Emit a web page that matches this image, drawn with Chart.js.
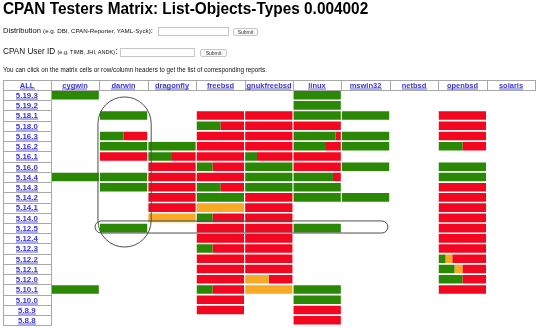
<!DOCTYPE html>
<html><head><meta charset="utf-8">
<script src="https://cdn.jsdelivr.net/npm/chart.js@4/dist/chart.umd.min.js"></script>
<style>
html,body{margin:0;padding:0;background:#fff;width:541px;height:328px;overflow:hidden;font-family:"Liberation Sans",Arial,sans-serif;color:#111}
#c{position:absolute;left:0;top:0}
.t{position:absolute;white-space:nowrap;line-height:1}
h1{position:absolute;left:3px;top:0;margin:0;font-size:15.4px;font-weight:bold;line-height:16px;transform:scaleY(1.1);transform-origin:0 0;white-space:nowrap;color:#000}
.inp{position:absolute;border:1px solid #c6c6c6;background:#fff;box-sizing:border-box}
.btn{position:absolute;border:1px solid #c8c8c8;border-radius:2px;background:#f8f8f8;box-sizing:border-box;font-size:5px;text-align:center;line-height:7px;color:#333}
</style></head>
<body>
<canvas id="c" width="541" height="328"></canvas>
<h1>CPAN Testers Matrix: List-Objects-Types 0.004002</h1>
<div class="t" style="left:3px;top:26.5px;font-size:7.6px">Distribution <span style="font-size:6.2px">(e.g. DBI, CPAN-Reporter, YAML-Syck)</span>:</div>
<div class="inp" style="left:158px;top:27px;width:71px;height:9px"></div>
<div class="btn" style="left:233px;top:27.5px;width:25px;height:8.5px">Submit</div>
<div class="t" style="left:3px;top:48px;font-size:8.2px">CPAN User ID <span style="font-size:5.6px">(e.g. TIMB, JHI, ANDK)</span>:</div>
<div class="inp" style="left:120px;top:48px;width:75px;height:9px"></div>
<div class="btn" style="left:200px;top:48.5px;width:27px;height:8.5px">Submit</div>
<div class="t" style="left:3px;top:67.3px;font-size:6.3px">You can click on the matrix cells or row/column headers to get the list of corresponding reports.</div>
<script>
// ---- data ----
const versions = ['5.19.3','5.19.2','5.18.1','5.18.0','5.16.3','5.16.2','5.16.1','5.16.0','5.14.4','5.14.3','5.14.2','5.14.1','5.14.0','5.12.5','5.12.4','5.12.3','5.12.2','5.12.1','5.12.0','5.10.1','5.10.0','5.8.9','5.8.8'];
const platforms = ['cygwin','darwin','dragonfly','freebsd','gnukfreebsd','linux','mswin32','netbsd','openbsd','solaris'];
// each cell: [pass, na, fail] report counts; null = no reports
const _ = null, P = [1,0,0], F = [0,0,1], N = [0,1,0];
const cygwin      = [P,_,_,_,_,_,_,_,P,_,_,_,_,_,_,_,_,_,_,P,_,_,_];
const darwin      = [_,_,P,_,[1,0,1],P,F,_,P,P,_,_,_,P,_,_,_,_,_,_,_,_,_];
const dragonfly   = [_,_,_,_,_,P,[1,0,1],F,F,F,F,F,N,_,_,_,_,_,_,_,_,_,_];
const freebsd     = [_,_,F,[1,0,1],F,F,F,[1,0,2],F,[1,0,1],P,N,[1,0,2],F,F,[1,0,2],F,F,F,[1,0,2],F,F,_];
const gnukfreebsd = [_,_,F,F,F,F,[1,0,3],P,P,P,F,F,F,F,F,F,F,F,[0,1,1],N,_,_,_];
const linux       = [P,P,P,F,[8,0,1],[2,0,1],F,F,[5,0,1],P,P,_,_,P,_,_,_,_,_,P,P,F,F];
const mswin32     = [_,_,P,_,P,P,_,P,_,_,P,_,_,_,_,_,_,_,_,_,_,_,_];
const netbsd      = [_,_,_,_,_,_,_,_,_,_,_,_,_,_,_,_,_,_,_,_,_,_,_];
const openbsd     = [_,_,F,F,F,[1,0,1],_,P,P,F,F,F,F,F,F,F,[1,1,5],[2,1,3],[1,0,1],F,_,_,_];
const solaris     = [_,_,_,_,_,_,_,_,_,_,_,_,_,_,_,_,_,_,_,_,_,_,_];
const series = [cygwin,darwin,dragonfly,freebsd,gnukfreebsd,linux,mswin32,netbsd,openbsd,solaris];
const resultNames = ['PASS','NA','FAIL'];

// ---- styling ----
const COLORS = ['#2a8805','#f9a924','#f3061f'];
const INSET = 0.012;
// highlight outlines, in column / row units
const outlines = [
  {x0:0.97, x1:2.07, y0:0.18, y1:14.85},
  {x0:0.91, x1:6.96, y0:12.3, y1:13.48}
];

function segments(k){
  const out = [];
  series.forEach((col,c) => col.forEach((cell,r) => {
    if(!cell || !cell[k]) return;
    const total = cell[0]+cell[1]+cell[2];
    const before = cell.slice(0,k).reduce((a,b)=>a+b,0);
    const w = 1-2*INSET;
    out.push({x:[c+INSET+w*before/total, c+INSET+w*(before+cell[k])/total], y:versions[r]});
  }));
  return out;
}

function stadium(ctx,l,t,r,b){
  const rad = Math.min(r-l,b-t)/2;
  ctx.beginPath();
  ctx.moveTo(l+rad,t);
  ctx.lineTo(r-rad,t);
  ctx.arc(r-rad,t+rad,rad,-Math.PI/2,0);
  ctx.lineTo(r,b-rad);
  ctx.arc(r-rad,b-rad,rad,0,Math.PI/2);
  ctx.lineTo(l+rad,b);
  ctx.arc(l+rad,b-rad,rad,Math.PI/2,Math.PI);
  ctx.lineTo(l,t+rad);
  ctx.arc(l+rad,t+rad,rad,Math.PI,1.5*Math.PI);
  ctx.closePath();
  ctx.stroke();
}

function link(ctx,text,cx,cy,size){
  ctx.font = 'bold '+size+'px "Liberation Sans", Arial, sans-serif';
  ctx.fillStyle = '#3a36d2';
  ctx.textAlign = 'center';
  ctx.textBaseline = 'alphabetic';
  const base = cy + size*0.36;
  ctx.fillText(text,cx,base);
  const w = ctx.measureText(text).width;
  ctx.fillRect(Math.round(cx-w/2), Math.round(base)+0.6, Math.round(w), 0.8);
}

const matrixFrame = {
  id:'matrixFrame',
  afterDatasetsDraw(chart){
    const {ctx, scales:{x,y}} = chart;
    const pitch = y.getPixelForValue(1) - y.getPixelForValue(0);
    const top = y.getPixelForValue(0) - pitch/2;
    const left = x.getPixelForValue(-1), split = x.getPixelForValue(0);
    ctx.save();
    ctx.strokeStyle = '#a8a8a8';
    ctx.lineWidth = 1;
    ['ALL',...platforms].forEach((h,i) => {
      const a = Math.round(x.getPixelForValue(i-1)), b = Math.round(x.getPixelForValue(i));
      ctx.strokeRect(a+0.5, Math.round(top-pitch)+0.5, b-a, Math.round(pitch));
      link(ctx,h,(a+b)/2, top-pitch/2, 7.5);
    });
    versions.forEach((v,r) => {
      const c = y.getPixelForValue(r);
      const t0 = Math.round(c-pitch/2), t1 = Math.round(c+pitch/2);
      ctx.strokeRect(Math.round(left)+0.5, t0+0.5, Math.round(split)-Math.round(left), t1-t0);
      link(ctx,v,(left+split)/2, c, 7.9);
    });
    ctx.strokeStyle = '#4d4d4d';
    ctx.lineWidth = 1;
    outlines.forEach(o => stadium(ctx, x.getPixelForValue(o.x0), y.getPixelForValue(o.y0), x.getPixelForValue(o.x1), y.getPixelForValue(o.y1)));
    ctx.restore();
  }
};

new Chart(document.getElementById('c'), {
  type:'bar',
  data:{
    labels: versions,
    datasets: resultNames.map((name,k) => ({
      label:name, data:segments(k), backgroundColor:COLORS[k], borderWidth:0,
      grouped:false, barPercentage:1, categoryPercentage:0.84
    }))
  },
  options:{
    indexAxis:'y', responsive:false, devicePixelRatio:1, animation:false, events:[],
    layout:{padding:{left:51, right:6, top:90, bottom:2.7}},
    scales:{
      x:{type:'linear', min:0, max:10, display:false},
      y:{type:'category', display:false, offset:true}
    },
    plugins:{legend:{display:false}, tooltip:{enabled:false}}
  },
  plugins:[matrixFrame]
});
</script>
</body></html>
